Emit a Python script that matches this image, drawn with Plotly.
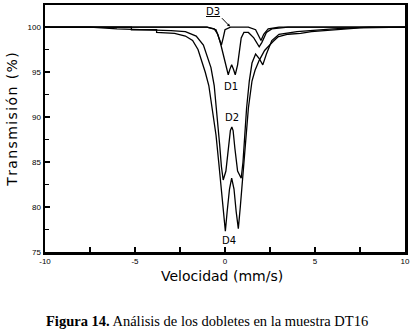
import plotly.graph_objects as go

# ---- data (velocity mm/s, transmission %) ----
d4_v = [-10, -6, -5.2, -5.2, -3.8, -3.8, -2.8, -2.2, -1.8, -1.5, -1.3, -1.1, -0.9, -0.7, -0.5, -0.35, -0.2, -0.08,
        0.02, 0.12, 0.25, 0.37, 0.5, 0.62, 0.74, 0.85, 1.0, 1.15, 1.3, 1.5, 1.67, 1.9, 2.2, 2.67, 2.94, 3.5, 4.2,
        4.8, 6.0, 7.5, 10]
d4_t = [100, 100, 100, 99.7, 99.7, 99.4, 99.3, 99.0, 98.5, 97.5, 96.3, 95.0, 93.5, 91.0, 88.0, 85.0, 82.0, 79.0,
        77.3, 79.5, 82.0, 83.2, 82.0, 79.5, 77.6, 80.0, 84.0, 88.0, 91.0, 94.0, 95.2, 96.3, 97.4, 98.4, 98.9, 99.2, 99.3,
        99.5, 99.7, 99.9, 100]

d2_v = [-10, -7.5, -6, -4, -3, -2.2, -1.6, -1.2, -0.95, -0.78, -0.6, -0.45, -0.3, -0.2, -0.1, 0.05, 0.2, 0.3,
        0.38, 0.45, 0.55, 0.7, 0.9, 1.0, 1.1, 1.2, 1.35, 1.5, 1.7, 1.9, 2.1, 2.3, 2.6, 3.0, 4.0, 6.0, 8.0, 10]
d2_t = [100, 100, 99.8, 99.7, 99.6, 99.5, 99.0, 98.0, 96.5, 95.5, 93.5, 90.5, 87.0, 84.5, 83.0, 84.0, 86.5, 88.5,
        88.9, 88.5, 86.5, 84.0, 83.2, 85.0, 88.0, 91.0, 94.0, 96.0, 97.0, 96.5, 95.8, 97.0, 98.5, 99.2, 99.5, 99.8, 100, 100]

d1_v = [-10, -1.0, -0.6, -0.4, -0.25, -0.1, 0.05, 0.18, 0.27, 0.37, 0.47, 0.57, 0.7, 0.8, 0.9, 1.05, 1.3, 1.6,
        1.9, 2.05, 2.3, 2.6, 3.5, 10]
d1_t = [100, 100, 99.8, 99.2, 98.2, 97.0, 95.5, 94.7, 95.3, 95.8, 95.3, 94.7, 95.8, 97.5, 98.8, 99.4, 99.4, 98.8,
        97.8, 98.3, 99.4, 99.8, 100, 100]

d3_v = [-10, -1.0, -0.5, -0.3, -0.2, -0.1, 0.0, 0.3, 1.3, 1.7, 1.9, 2.0, 2.15, 2.4, 3.0, 10]
d3_t = [100, 100, 99.7, 98.7, 98.0, 98.8, 99.7, 100, 100, 99.7, 99.0, 98.5, 99.2, 99.8, 100, 100]

x_ticks = [-10, -5, 0, 5, 10]
x_labels = ["-10", "-5", "0", "5", "10"]
y_ticks = [75, 80, 85, 90, 95, 100]

fig = go.Figure()
for v, t in [(d4_v, d4_t), (d2_v, d2_t), (d1_v, d1_t), (d3_v, d3_t)]:
    fig.add_trace(go.Scatter(x=v, y=t, mode="lines",
                             line=dict(color="black", width=1.3),
                             showlegend=False, hoverinfo="skip"))

lab_font = dict(family="DejaVu Sans", size=10, color="black")
fig.add_annotation(x=0.33, y=93.4, text="D1", showarrow=False, font=lab_font)
fig.add_annotation(x=0.39, y=90.0, text="D2", showarrow=False, font=lab_font)
fig.add_annotation(x=0.24, y=76.3, text="D4", showarrow=False, font=lab_font)
fig.add_annotation(x=-0.67, y=101.75, text="<u>D3</u>", showarrow=False, font=lab_font)
fig.add_annotation(x=0.28, y=100.05, ax=-0.25, ay=101.15, axref="x", ayref="y",
                   text="", showarrow=True, arrowhead=2, arrowsize=0.6,
                   arrowwidth=1, arrowcolor="black")

# axis titles and caption
fig.add_annotation(xref="paper", yref="paper", x=0.492, y=-0.097,
                   xanchor="center", yanchor="middle", showarrow=False,
                   text="Velocidad (mm/s)",
                   font=dict(family="DejaVu Sans", size=14, color="black"))
fig.add_annotation(xref="paper", yref="paper", x=-0.092, y=0.535,
                   xanchor="center", yanchor="middle", showarrow=False, textangle=-90,
                   text="T\u200ar\u200aa\u200an\u200as\u200am\u200ai\u200as\u200ai\u200aó\u200an\u2009 (\u200a%\u200a)",
                   font=dict(family="DejaVu Sans", size=14, color="black"))
fig.add_annotation(xref="paper", yref="paper", x=0.45, y=-0.279,
                   xanchor="center", yanchor="middle", showarrow=False,
                   text="<b>Figura 14.</b> Análisis de los dobletes en la muestra DT16",
                   font=dict(family="Liberation Serif", size=14.5, color="black"))

axis_common = dict(showline=True, linewidth=2.5, linecolor="black", mirror=True,
                   ticks="inside", ticklen=5, tickwidth=1.5, tickcolor="black",
                   showgrid=False, zeroline=False, automargin=False,
                   tickfont=dict(family="Liberation Sans", size=8, color="black"))

fig.update_xaxes(range=[-10, 10], tickvals=x_ticks, ticktext=x_labels,
                 minor=dict(tickvals=[-7.5, -2.5, 2.5, 7.5], ticks="inside", ticklen=5,
                            tickwidth=1.5, tickcolor="black"),
                 **axis_common)
fig.update_yaxes(range=[75, 102.45], tickvals=y_ticks,
                 minor=dict(tickvals=[77.5, 82.5, 87.5, 92.5, 97.5], ticks="inside", ticklen=4,
                            tickwidth=1.5, tickcolor="black"),
                 **axis_common)

fig.update_layout(width=415, height=332,
                  margin=dict(l=45, r=10, t=5, b=80),
                  plot_bgcolor="white", paper_bgcolor="white")

fig.write_html("out.html", config={"displayModeBar": False, "staticPlot": True},
               post_script="document.body.style.margin='0';document.body.style.overflow='hidden';")
